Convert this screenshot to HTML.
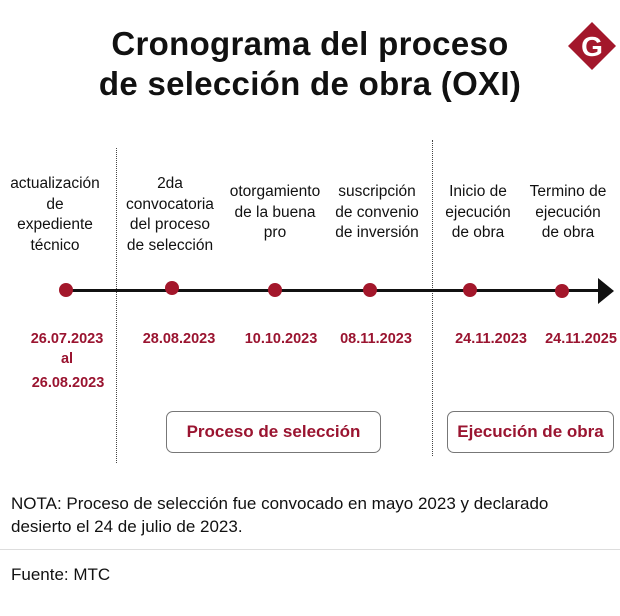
<!DOCTYPE html>
<html><head><meta charset="utf-8"><style>
body{margin:0;width:620px;height:616px;background:#fff;position:relative;overflow:hidden;font-family:"Liberation Sans",sans-serif;color:#111}
.a{position:absolute}
.t{left:0;width:620px;text-align:center;font-weight:bold;font-size:33px;line-height:38px;letter-spacing:0.3px}
.l{text-align:center;font-size:15.5px;line-height:20.5px;width:120px}
.d{text-align:center;font-size:14.5px;font-weight:bold;color:#9a1430;width:110px}
.dot{width:14px;height:14px;border-radius:50%;background:#a3172b}
.box{border:1.3px solid #777;border-radius:7px;color:#9a1430;font-weight:bold;font-size:17px;text-align:center;line-height:39px}
.v{border-left:1.5px dotted #444;width:0}
</style></head><body>
<div class="a t" style="top:25px">Cronograma del proceso</div>
<div class="a t" style="top:65px">de selección de obra (OXI)</div>
<svg class="a" style="left:566px;top:20px" width="52" height="52"><polygon points="26,2 50,26 26,50 2,26" fill="#a3172b"/><text x="26" y="36" text-anchor="middle" font-family="Liberation Sans" font-weight="bold" font-size="28" fill="#fff">G</text></svg>
<div class="a v" style="left:116px;top:148px;height:315px"></div>
<div class="a v" style="left:432px;top:140px;height:316px"></div>
<div class="a l" style="left:-5px;top:174px">actualización<br>de<br>expediente<br>técnico</div>
<div class="a l" style="left:110px;top:174px">2da<br>convocatoria<br>del proceso<br>de selección</div>
<div class="a l" style="left:215px;top:182px">otorgamiento<br>de la buena<br>pro</div>
<div class="a l" style="left:317px;top:182px">suscripción<br>de convenio<br>de inversión</div>
<div class="a l" style="left:418px;top:182px">Inicio de<br>ejecución<br>de obra</div>
<div class="a l" style="left:508px;top:182px">Termino de<br>ejecución<br>de obra</div>
<div class="a" style="left:66px;top:289px;width:540px;height:3px;background:#111"></div>
<svg class="a" style="left:598px;top:278px" width="18" height="26"><polygon points="0,0 16,13 0,26" fill="#111"/></svg>
<div class="a dot" style="left:59px;top:283px"></div>
<div class="a dot" style="left:165px;top:281px"></div>
<div class="a dot" style="left:268px;top:283px"></div>
<div class="a dot" style="left:363px;top:283px"></div>
<div class="a dot" style="left:463px;top:283px"></div>
<div class="a dot" style="left:555px;top:284px"></div>
<div class="a d" style="left:12px;top:331px">26.07.2023</div>
<div class="a d" style="left:12px;top:351px">al</div>
<div class="a d" style="left:13px;top:375px">26.08.2023</div>
<div class="a d" style="left:124px;top:331px">28.08.2023</div>
<div class="a d" style="left:226px;top:331px">10.10.2023</div>
<div class="a d" style="left:321px;top:331px">08.11.2023</div>
<div class="a d" style="left:436px;top:331px">24.11.2023</div>
<div class="a d" style="left:526px;top:331px">24.11.2025</div>
<div class="a box" style="left:166px;top:411px;width:213px;height:40px">Proceso de selección</div>
<div class="a box" style="left:447px;top:411px;width:165px;height:40px">Ejecución de obra</div>
<div class="a" style="left:11px;top:492px;font-size:17px;line-height:23px;width:610px">NOTA: Proceso de selección fue convocado en mayo 2023 y declarado<br>desierto el 24 de julio de 2023.</div>
<div class="a" style="left:0;top:549px;width:620px;height:1px;background:#ddd"></div>
<div class="a" style="left:11px;top:565px;font-size:17px">Fuente: MTC</div>
</body></html>
